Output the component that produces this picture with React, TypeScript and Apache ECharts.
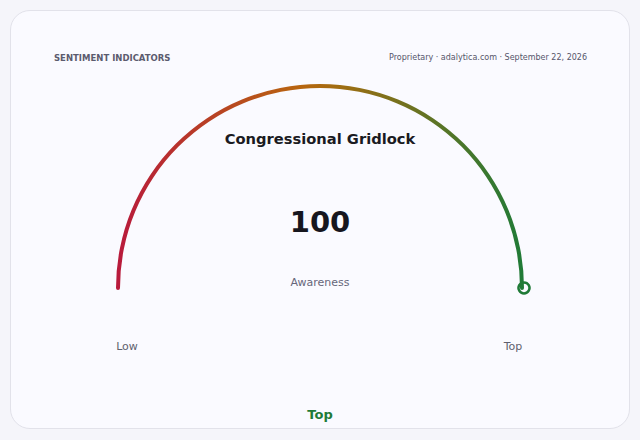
import React, { useEffect, useRef } from "react";
import * as echarts from "echarts";

// Gauge data
const gaugeValue = 100;
const gaugeName = "Awareness";
const gaugeMin = 0;
const gaugeMax = 100;
const endLabels = ["Low", "Top"];
const ratingLabel = "Top";
const chartTitle = "Congressional Gridlock";
const headerLeft = "SENTIMENT INDICATORS";
const headerRight = "Proprietary · adalytica.com · September 22, 2026";

const FONT = "DejaVu Sans, sans-serif";
const RED = "#b8193c";
const ORANGE = "#b8650f";
const GREEN = "#1f7a37";

const App: React.FC = () => {
  const chartRef = useRef<HTMLDivElement>(null);

  useEffect(() => {
    document.body.style.margin = "0";
    if (!chartRef.current) return;
    const myChart = echarts.init(chartRef.current, undefined, { renderer: "svg" });

    const option: echarts.EChartsOption = {
      animation: false,
      title: {
        text: chartTitle,
        left: "center",
        top: 126,
        textStyle: { fontFamily: FONT, fontSize: 14.7, fontWeight: "bold", color: "#1a1a22" },
      },
      graphic: [
        {
          type: "text",
          left: 54,
          top: 53,
          style: { text: headerLeft, font: `bold 8.5px ${FONT}`, fill: "#5b5b6e" },
        },
        {
          type: "text",
          right: 53,
          top: 53,
          style: { text: headerRight, font: `8px ${FONT}`, fill: "#55556a" },
        },
        {
          type: "text",
          x: 127,
          y: 346,
          style: { text: endLabels[0], font: `11px ${FONT}`, fill: "#5f5f6e", align: "center", verticalAlign: "middle" },
        },
        {
          type: "text",
          x: 513,
          y: 346,
          style: { text: endLabels[1], font: `11px ${FONT}`, fill: "#5f5f6e", align: "center", verticalAlign: "middle" },
        },
        {
          type: "text",
          x: 320,
          y: 414,
          style: { text: ratingLabel, font: `bold 13px ${FONT}`, fill: GREEN, align: "center", verticalAlign: "middle" },
        },
      ],
      series: [
        {
          type: "gauge",
          center: [320, 288],
          radius: 204,
          startAngle: 180,
          endAngle: 0,
          min: gaugeMin,
          max: gaugeMax,
          axisLine: { show: false },
          progress: {
            show: true,
            width: 4,
            roundCap: true,
            itemStyle: {
              color: new echarts.graphic.LinearGradient(0, 0, 1, 0, [
                { offset: 0, color: RED },
                { offset: 0.45, color: ORANGE },
                { offset: 0.55, color: "#9f6d12" },
                { offset: 1, color: GREEN },
              ]),
            },
          },
          pointer: {
            show: true,
            icon: "circle",
            length: 11,
            width: 11,
            offsetCenter: [0, -198.5],
            itemStyle: { color: "#fafaff", borderColor: GREEN, borderWidth: 2.5 },
          },
          anchor: { show: false },
          axisTick: { show: false },
          splitLine: { show: false },
          axisLabel: { show: false },
          title: {
            offsetCenter: [0, -6],
            fontFamily: FONT,
            fontSize: 11,
            color: "#66667a",
          },
          detail: {
            offsetCenter: [0, -66],
            fontFamily: FONT,
            fontSize: 29,
            fontWeight: "bold",
            color: "#16161e",
            formatter: "{value}",
          },
          data: [{ value: gaugeValue, name: gaugeName }],
        },
      ],
    };

    myChart.setOption(option);
    return () => {
      myChart.dispose();
    };
  }, []);

  return (
    <div style={{ position: "relative", width: 640, height: 440, background: "#f5f5fa" }}>
      <div
        style={{
          position: "absolute",
          left: 10,
          top: 10,
          width: 618,
          height: 417,
          border: "1px solid #e2e2ea",
          borderRadius: 20,
          background: "#fafaff",
        }}
      />
      <div ref={chartRef} style={{ position: "absolute", left: 0, top: 0, width: 640, height: 440 }} />
    </div>
  );
};

export default App;
